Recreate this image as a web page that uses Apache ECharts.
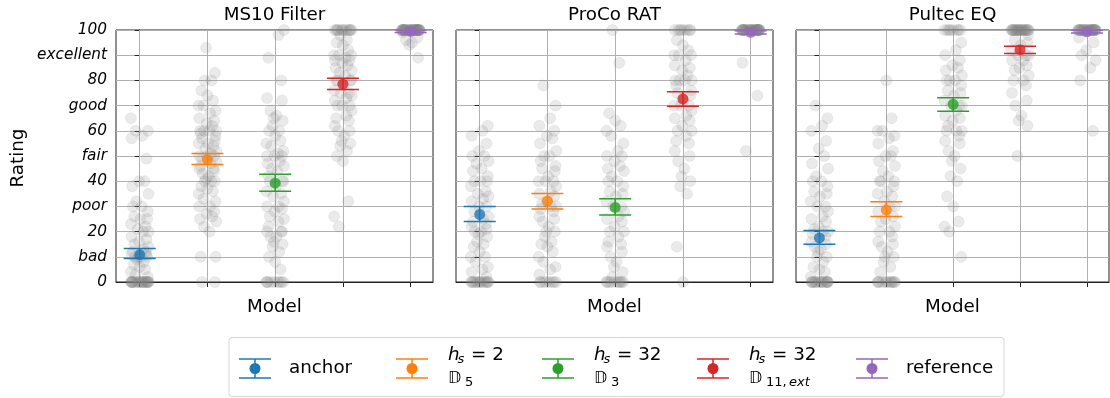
<!DOCTYPE html>
<html>
<head>
<meta charset="utf-8">
<script src="https://cdn.jsdelivr.net/npm/echarts@6.0.0/dist/echarts.min.js"></script>
<style>
  html, body { margin: 0; padding: 0; background: #fff; }
  #chart { width: 1110px; height: 398px; }
</style>
</head>
<body>
<div id="chart"></div>
<script>
// panels / models
const panels = ['MS10 Filter', 'ProCo RAT', 'Pultec EQ']
const models = ['anchor', 'hs=2 D5', 'hs=32 D3', 'hs=32 D11,ext', 'reference']
const modelPos = [0, 1, 2, 3, 4]
const yTickLabels = ['0', 'bad', '20', 'poor', '40', 'fair', '60', 'good', '80', 'excellent', '100']

// listener ratings, one list per model
const ratingsMS10 = [
  [0,0,0,0,0,0,0,0,0,0,0,0,0,0,0,0,0,0,0,0,2,3,4,5,6,7,8,9,10,10,10,10,11,11,12,12,13,14,15,16,17,18,20,20,21,22,23,25,25,26,28,30,30,32,35,38,40,40,49,57,58,60,60,65],
  [0,0,10,10,20,22,24,25,26,27,28,30,30,32,33,35,36,37,38,40,40,40,41,42,43,44,45,45,46,47,48,49,50,50,50,51,52,53,54,55,55,56,57,58,59,60,60,60,60,62,63,64,65,67,68,70,70,72,74,76,80,80,83,93],
  [0,0,0,0,0,0,0,0,0,5,8,10,12,14,15,16,18,18,20,20,20,22,24,25,26,28,29,30,30,32,34,35,36,38,40,40,40,42,44,45,46,47,48,50,50,50,51,52,54,55,56,58,60,60,62,64,65,66,68,72,73,80,89,98,100],
  [22,26,32,48,50,52,54,55,56,58,60,60,62,64,65,66,68,70,70,70,72,73,74,75,75,76,78,80,80,80,80,82,83,84,85,86,87,88,88,89,90,90,90,92,94,95,96,98,100,100,100,100,100,100,100,100,100,100,100,100],
  [89,94,95,96,97,99,100,100,100,100,100,100,100,100,100,100,100,100,100,100,100,100,100,100,100,100,100,100,100,100,100,100,100,100,100,100,100,100,100,100]
]
const ratingsProCo = [
  [0,0,0,0,0,0,0,0,0,0,0,0,0,0,2,4,5,6,8,10,10,12,14,15,16,18,19,20,20,21,22,23,24,25,26,28,30,30,32,33,34,35,36,38,40,40,40,42,44,45,47,48,50,50,52,55,58,60,62],
  [0,0,0,0,0,0,0,0,3,5,6,8,10,12,14,15,16,18,20,20,22,24,25,26,28,29,30,30,31,32,34,35,36,38,40,40,40,42,44,45,46,48,50,50,52,55,57,58,60,62,65,70,78],
  [0,0,0,0,0,0,0,0,0,0,2,4,6,8,10,12,14,15,16,18,20,20,22,24,25,26,28,30,30,32,34,35,36,38,40,40,42,44,45,46,48,50,50,52,55,58,60,62,64,67,87,100],
  [0,14,35,38,40,42,45,48,50,52,55,56,58,60,60,62,64,65,66,68,70,70,70,72,74,75,76,78,80,80,80,80,82,84,85,86,88,90,90,90,92,94,96,100,100,100,100,100,100,100,100],
  [52,74,87,100,100,100,100,100,100,100,100,100,100,100,100,100,100,100,100,100,100,100,100,100,100,100,100,100,100,100,100,100,100,100,100]
]
const ratingsPultec = [
  [0,0,0,0,0,0,0,0,0,0,0,0,0,0,0,0,2,4,5,6,8,10,10,12,13,14,15,16,18,19,20,20,21,22,24,25,26,28,30,30,32,34,35,36,38,40,40,42,45,47,50,53,56,60,62,65,70],
  [0,0,0,0,0,0,0,0,0,0,0,0,4,6,8,10,10,12,14,15,16,18,20,20,22,24,25,26,28,30,30,32,34,35,36,38,40,40,40,42,44,46,48,50,50,52,55,57,58,60,60,65,80],
  [10,20,22,24,30,34,40,42,45,48,50,52,55,56,58,60,60,60,62,64,65,66,68,70,70,70,72,74,75,76,78,80,80,80,82,84,85,86,88,90,92,95,100,100,100,100,100,100,100,100],
  [50,62,64,66,70,72,75,78,80,80,82,84,85,86,88,88,90,90,90,92,94,95,96,98,100,100,100,100,100,100,100,100,100,100,100,100,100,100,100,100,100,100,100,100,100,100],
  [60,80,85,88,90,92,95,97,100,100,100,100,100,100,100,100,100,100,100,100,100,100,100,100,100,100,100,100,100,100,100,100,100,100,100,100]
]

// mean and confidence interval per model
const meanMS10 = [10.9, 48.6, 39.2, 78.5, 99.5]
const lowMS10 = [9.3, 46.6, 36.0, 76.4, 99.0]
const highMS10 = [13.3, 51.0, 42.8, 80.9, 100]
const meanProCo = [26.8, 32.1, 29.6, 72.7, 99.1]
const lowProCo = [24.0, 29.0, 26.6, 69.7, 98.4]
const highProCo = [30.0, 35.1, 33.0, 75.5, 99.7]
const meanPultec = [17.5, 28.6, 70.5, 92.2, 99.3]
const lowPultec = [15.0, 26.0, 67.8, 90.7, 98.8]
const highPultec = [20.4, 31.8, 73.1, 93.6, 99.9]

// fixed strip jitter (in model units)
const jitter = [-0.12, 0.05, 0.13, -0.03, 0.09, -0.13, 0.01, 0.11, -0.08, 0.12, -0.1, 0.03, -0.05, 0.13, -0.11, 0.07, -0.01, 0.1, -0.12, 0.04, 0.12, -0.06, -0.13, 0.08, 0.0, -0.09, 0.06, -0.04, 0.11, -0.02, 0.02, -0.07, 0.1, -0.12, 0.09, -0.1, 0.05, 0.13, -0.08, -0.01, 0.1]

const colors = ['#1f77b4', '#ff7f0e', '#2ca02c', '#d62728', '#9467bd']
const font = 'DejaVu Sans'
const bigSize = 18.3
const tickSize = 15.3

const ratings = [ratingsMS10, ratingsProCo, ratingsPultec]
const means = [meanMS10, meanProCo, meanPultec]
const lows = [lowMS10, lowProCo, lowPultec]
const highs = [highMS10, highProCo, highPultec]

const gridBoxes = [
  { left: 116, width: 317 },
  { left: 456, width: 317 },
  { left: 796, width: 313 },
]

const grids = []
const xAxes = []
const yAxes = []
const series = []

for (let p = 0; p < panels.length; p++) {
  grids.push({
    left: gridBoxes[p].left, width: gridBoxes[p].width, top: 30, height: 252,
    show: true, borderColor: '#222', borderWidth: 1, backgroundColor: 'transparent',
  })
  xAxes.push({
    gridIndex: p, type: 'value', min: -0.35, max: 4.33,
    name: 'Model', nameLocation: 'middle', nameGap: 16,
    nameTextStyle: { fontFamily: font, fontSize: bigSize, color: '#000' },
    axisLine: { show: true, lineStyle: { color: '#222', width: 1 } },
    axisTick: { show: true, customValues: modelPos, length: 5, lineStyle: { color: '#222' } },
    axisLabel: { show: false },
    splitLine: { show: false },
  })
  yAxes.push({
    gridIndex: p, type: 'value', min: 0, max: 100, interval: 10,
    axisLine: { show: true, lineStyle: { color: '#222', width: 1 } },
    axisTick: { show: true, length: 5, lineStyle: { color: '#222' } },
    axisLabel: {
      show: p === 0, fontFamily: font, fontSize: tickSize, fontStyle: 'italic', color: '#000', margin: 9,
      formatter: (v) => yTickLabels[Math.round(v / 10)],
    },
    splitLine: { show: true, lineStyle: { color: '#b0b0b0', width: 1 } },
  })

  // grey strips
  const pts = []
  ratings[p].forEach((list, m) => {
    list.forEach((v, i) => {
      pts.push([modelPos[m] + jitter[(i + 7 * m + 3 * p) % jitter.length], v])
    })
  })
  series.push({
    type: 'scatter', xAxisIndex: p, yAxisIndex: p, data: pts, clip: true,
    symbolSize: 11, silent: true, z: 2,
    itemStyle: { color: 'rgba(128,128,128,0.21)', borderColor: 'rgba(110,110,110,0.15)', borderWidth: 0.8 },
    markLine: {
      silent: true, symbol: 'none', label: { show: false },
      lineStyle: { color: '#b0b0b0', width: 1, type: 'solid' },
      data: modelPos.map((x) => ({ xAxis: x })),
      z: 1,
    },
  })

  // error bars
  const bars = modelPos.map((x, m) => [x, lows[p][m], highs[p][m]])
  series.push({
    type: 'custom', xAxisIndex: p, yAxisIndex: p, data: bars, clip: true, z: 5, silent: true,
    renderItem: (params, api) => {
      const lo = api.coord([api.value(0), api.value(1)])
      const hi = api.coord([api.value(0), api.value(2)])
      const c = colors[params.dataIndex]
      const st = { stroke: c, lineWidth: 1.5 }
      return {
        type: 'group',
        children: [
          { type: 'line', shape: { x1: lo[0], y1: lo[1], x2: hi[0], y2: hi[1] }, style: st },
          { type: 'line', shape: { x1: lo[0] - 16, y1: lo[1], x2: lo[0] + 16, y2: lo[1] }, style: st },
          { type: 'line', shape: { x1: hi[0] - 16, y1: hi[1], x2: hi[0] + 16, y2: hi[1] }, style: st },
        ],
      }
    },
  })

  // mean dots
  series.push({
    type: 'scatter', xAxisIndex: p, yAxisIndex: p, clip: true, z: 6, silent: true,
    data: modelPos.map((x, m) => [x, means[p][m]]),
    symbolSize: 11,
    itemStyle: { color: (d) => colors[d.dataIndex] },
  })
}

// titles, y label, legend
const graphics = []
panels.forEach((t, p) => {
  graphics.push({
    type: 'text',
    x: gridBoxes[p].left + gridBoxes[p].width / 2, y: 15,
    style: { text: t, fontFamily: font, fontSize: bigSize, fill: '#000', align: 'center', verticalAlign: 'middle' },
  })
})
graphics.push({
  type: 'text', x: 18, y: 158, rotation: Math.PI / 2,
  style: { text: 'Rating', fontFamily: font, fontSize: bigSize, fill: '#000', align: 'center', verticalAlign: 'middle' },
})
graphics.push({
  type: 'rect', shape: { x: 229, y: 337.5, width: 775, height: 59, r: 3 },
  style: { fill: '#fff', stroke: '#d6d6d6', lineWidth: 1 }, z: 10,
})
const legendX = [255, 412, 558, 713, 872]
legendX.forEach((cx, m) => {
  const st = { stroke: colors[m], lineWidth: 1.5 }
  graphics.push({ type: 'line', shape: { x1: cx, y1: 359, x2: cx, y2: 378 }, style: st, z: 11 })
  graphics.push({ type: 'line', shape: { x1: cx - 16, y1: 359, x2: cx + 16, y2: 359 }, style: st, z: 11 })
  graphics.push({ type: 'line', shape: { x1: cx - 16, y1: 378, x2: cx + 16, y2: 378 }, style: st, z: 11 })
  graphics.push({ type: 'circle', shape: { cx: cx, cy: 368.5, r: 5.5 }, style: { fill: colors[m] }, z: 11 })
})
const plainText = (x, y, txt, size, extra) => ({
  type: 'text', x: x, y: y, z: 12,
  style: Object.assign({ text: txt, fontFamily: font, fontSize: size, fill: '#000', align: 'left', verticalAlign: 'middle' }, extra || {}),
})
graphics.push(plainText(289, 368.5, 'anchor', bigSize))
graphics.push(plainText(906, 368.5, 'reference', bigSize))
const mathLabels = [
  { m: 1, eq: '= 2', sub: '5', ext: false },
  { m: 2, eq: '= 32', sub: '3', ext: false },
  { m: 3, eq: '= 32', sub: '11,', ext: true },
]
mathLabels.forEach((L) => {
  const x0 = legendX[L.m] + 36
  graphics.push(plainText(x0, 355, 'h', bigSize, { fontStyle: 'italic' }))
  graphics.push(plainText(x0 + 9.5, 359.5, 's', 13, { fontStyle: 'italic' }))
  graphics.push(plainText(x0 + 23, 355, L.eq, bigSize))
  graphics.push(plainText(x0, 379, '\u{1D53B}', 16))
  graphics.push(plainText(x0 + 17, 383, L.sub, 13))
  if (L.ext) graphics.push(plainText(x0 + 40, 383, 'ext', 13, { fontStyle: 'italic' }))
})

const myChart = echarts.init(document.getElementById('chart'), null, { renderer: 'canvas' })
myChart.setOption({
  animation: false,
  backgroundColor: '#fff',
  grid: grids,
  xAxis: xAxes,
  yAxis: yAxes,
  series: series,
  graphic: graphics,
})
</script>
</body>
</html>
